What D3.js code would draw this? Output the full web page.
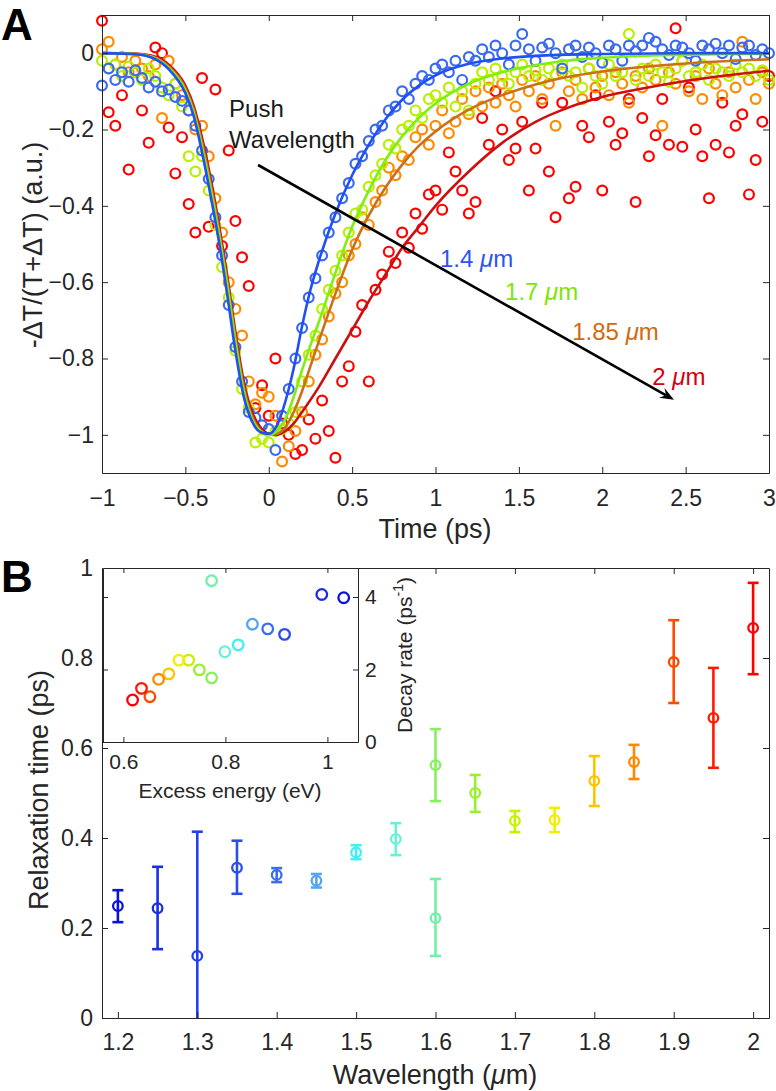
<!DOCTYPE html>
<html><head><meta charset="utf-8">
<script src="https://cdn.jsdelivr.net/npm/d3@7"></script>
<style>
body{margin:0;background:#fff}
svg{display:block}
text{font-family:"Liberation Sans",Arial,Helvetica,sans-serif}
</style>
</head><body>
<svg id="c" width="776" height="1091"></svg>
<script>
// ---------------- Panel A data ----------------
const delayTimes = [-1.00,-0.96,-0.92,-0.88,-0.84,-0.80,-0.76,-0.72,-0.68,-0.64,
 -0.60,-0.56,-0.52,-0.48,-0.44,-0.40,-0.36,-0.32,-0.28,-0.24,
 -0.20,-0.16,-0.12,-0.08,-0.04,0.00,0.04,0.08,0.12,0.16,
 0.20,0.24,0.28,0.32,0.36,0.40,0.44,0.48,0.52,0.56,
 0.60,0.64,0.68,0.72,0.76,0.80,0.84,0.88,0.92,0.96,
 1.00,1.04,1.08,1.12,1.16,1.20,1.24,1.28,1.32,1.36,
 1.40,1.44,1.48,1.52,1.56,1.60,1.64,1.68,1.72,1.76,
 1.80,1.84,1.88,1.92,1.96,2.00,2.04,2.08,2.12,2.16,
 2.20,2.24,2.28,2.32,2.36,2.40,2.44,2.48,2.52,2.56,
 2.60,2.64,2.68,2.72,2.76,2.80,2.84,2.88,2.92,2.96,3.00];

const signal14 = [-0.085,-0.04,-0.07,-0.05,-0.075,-0.045,-0.065,-0.09,-0.075,-0.10,
 -0.095,-0.115,-0.125,-0.15,-0.19,-0.255,-0.33,-0.43,-0.53,-0.66,
 -0.77,-0.86,-0.94,-0.955,-0.975,-0.985,-1.04,-0.95,-0.88,-0.80,
 -0.72,-0.64,-0.59,-0.53,-0.47,-0.43,-0.38,-0.34,-0.29,-0.27,
 -0.23,-0.20,-0.19,-0.15,-0.14,-0.10,-0.12,-0.08,-0.06,-0.07,
 -0.04,-0.03,-0.05,-0.02,-0.07,-0.01,-0.02,0.01,-0.01,0.02,
 0.00,-0.03,0.02,0.05,0.01,-0.02,0.015,0.025,0.00,-0.04,
 0.01,0.02,-0.01,0.015,0.00,-0.025,0.02,0.01,-0.02,0.02,
 0.005,0.02,0.04,0.03,0.01,-0.005,0.02,0.015,0.00,-0.02,
 0.02,0.01,0.025,0.00,0.02,-0.015,0.015,0.02,-0.005,0.01,0.00];

const signal17 = [-0.02,-0.04,-0.03,-0.06,-0.035,-0.05,-0.07,-0.04,-0.06,-0.09,
 -0.11,-0.08,-0.14,-0.27,-0.31,-0.27,-0.36,-0.45,-0.56,-0.64,
 -0.78,-0.88,-0.93,-1.02,-1.01,-1.02,-0.99,-0.985,-0.97,-0.94,
 -0.86,-0.79,-0.74,-0.67,-0.62,-0.57,-0.53,-0.47,-0.42,-0.41,
 -0.35,-0.32,-0.29,-0.24,-0.25,-0.20,-0.19,-0.15,-0.17,-0.12,
 -0.11,-0.13,-0.09,-0.14,-0.10,-0.15,-0.08,-0.05,-0.07,-0.04,
 -0.06,-0.08,-0.05,-0.03,-0.06,-0.045,-0.07,-0.04,-0.055,-0.03,
 -0.06,-0.05,-0.09,-0.04,-0.06,-0.08,-0.03,-0.06,-0.05,0.05,
 -0.07,-0.04,-0.06,-0.03,-0.05,-0.075,-0.04,-0.02,-0.06,-0.05,
 -0.03,-0.07,-0.04,-0.05,-0.06,-0.03,-0.05,-0.04,-0.06,-0.045,-0.07];

const signal185 = [0.01,0.03,-0.03,-0.01,-0.05,-0.02,-0.04,-0.06,-0.03,-0.17,
 -0.02,-0.08,-0.11,-0.15,-0.20,-0.19,-0.27,-0.38,-0.47,-0.60,
 -0.67,-0.74,-0.86,-0.92,-0.89,-0.90,-0.95,-1.07,-1.03,-0.99,
 -0.94,-0.86,-0.79,-0.75,-0.69,-0.63,-0.60,-0.53,-0.50,-0.43,
 -0.45,-0.39,-0.36,-0.30,-0.32,-0.27,-0.28,-0.22,-0.20,-0.24,
 -0.19,-0.15,-0.21,-0.18,-0.12,-0.16,-0.10,-0.14,-0.09,-0.13,
 -0.08,-0.11,-0.14,-0.07,-0.10,-0.06,-0.12,-0.08,-0.19,-0.05,
 -0.10,-0.07,-0.12,-0.04,-0.09,-0.06,-0.11,-0.05,-0.08,-0.13,
 -0.06,-0.09,-0.04,-0.07,-0.19,-0.05,-0.08,-0.02,-0.10,-0.06,
 -0.12,-0.04,-0.08,-0.11,-0.05,-0.09,0.03,-0.07,-0.12,-0.05,-0.08];

const signal20 = [0.085,-0.155,-0.19,-0.11,-0.305,-0.05,-0.15,-0.235,0.015,0.00,
 -0.195,-0.315,-0.22,-0.395,-0.47,-0.065,-0.455,-0.095,-0.505,-0.255,
 -0.44,-0.535,-0.61,-0.93,-0.87,-0.95,-0.80,-0.97,-1.00,-1.05,
 -1.04,-0.96,-1.01,-0.91,-0.99,-1.06,-0.86,-0.82,-0.73,-0.66,
 -0.86,-0.62,-0.58,-0.52,-0.55,-0.47,-0.51,-0.42,-0.46,-0.37,
 -0.36,-0.41,-0.26,-0.31,-0.36,-0.42,-0.39,-0.17,-0.24,-0.10,
 -0.20,-0.28,-0.25,-0.18,-0.36,-0.25,-0.13,-0.31,-0.43,-0.13,
 -0.38,-0.35,-0.19,-0.22,-0.11,-0.36,-0.18,-0.24,-0.21,-0.12,
 -0.39,-0.17,-0.27,-0.215,-0.12,-0.24,0.065,-0.245,-0.09,-0.20,
 -0.27,-0.38,-0.24,-0.13,-0.26,-0.19,-0.16,-0.37,-0.28,-0.18,-0.06];

// fitted curves as [time, signal]
const fit14 = [[-1,0],[-0.8,-0.003],[-0.7,-0.012],[-0.6,-0.042],[-0.5,-0.105],[-0.45,-0.165],[-0.4,-0.26],[-0.35,-0.37],[-0.3,-0.49],[-0.25,-0.63],[-0.2,-0.78],[-0.15,-0.9],[-0.1,-0.965],[-0.05,-0.993],[0,-0.997],[0.05,-0.975],[0.1,-0.912],[0.15,-0.825],[0.2,-0.715],[0.25,-0.62],[0.3,-0.545],[0.4,-0.42],[0.5,-0.32],[0.6,-0.24],[0.7,-0.173],[0.8,-0.122],[0.9,-0.085],[1.0,-0.058],[1.2,-0.028],[1.4,-0.014],[1.6,-0.007],[2.0,-0.002],[2.5,0],[3,0]];
const fit17 = [[-1,0],[-0.8,-0.002],[-0.7,-0.01],[-0.6,-0.038],[-0.5,-0.097],[-0.45,-0.155],[-0.4,-0.245],[-0.35,-0.35],[-0.3,-0.47],[-0.25,-0.605],[-0.2,-0.755],[-0.15,-0.885],[-0.1,-0.958],[-0.05,-0.99],[0,-1.0],[0.05,-0.99],[0.1,-0.958],[0.15,-0.9],[0.2,-0.83],[0.25,-0.765],[0.3,-0.705],[0.4,-0.575],[0.5,-0.455],[0.6,-0.36],[0.7,-0.28],[0.8,-0.218],[0.9,-0.17],[1.0,-0.132],[1.2,-0.08],[1.4,-0.05],[1.6,-0.031],[1.8,-0.019],[2.0,-0.012],[2.5,-0.004],[3,-0.001]];
const fit185 = [[-1,0],[-0.8,-0.002],[-0.7,-0.009],[-0.6,-0.035],[-0.5,-0.092],[-0.45,-0.148],[-0.4,-0.235],[-0.35,-0.34],[-0.3,-0.46],[-0.25,-0.595],[-0.2,-0.745],[-0.15,-0.875],[-0.1,-0.952],[-0.05,-0.988],[0,-1.0],[0.05,-0.997],[0.1,-0.98],[0.15,-0.94],[0.2,-0.885],[0.25,-0.82],[0.3,-0.755],[0.4,-0.63],[0.5,-0.515],[0.6,-0.425],[0.7,-0.352],[0.8,-0.292],[0.9,-0.243],[1.0,-0.205],[1.2,-0.148],[1.4,-0.11],[1.6,-0.082],[1.8,-0.062],[2.0,-0.048],[2.5,-0.027],[3,-0.016]];
const fit20 = [[-1,0],[-0.8,-0.001],[-0.7,-0.007],[-0.6,-0.03],[-0.5,-0.085],[-0.45,-0.138],[-0.4,-0.222],[-0.35,-0.325],[-0.3,-0.445],[-0.25,-0.58],[-0.2,-0.73],[-0.15,-0.86],[-0.1,-0.94],[-0.05,-0.98],[0,-0.997],[0.05,-1.0],[0.1,-0.99],[0.15,-0.97],[0.2,-0.94],[0.3,-0.875],[0.4,-0.8],[0.5,-0.725],[0.6,-0.65],[0.7,-0.58],[0.8,-0.51],[0.9,-0.455],[1.0,-0.4],[1.2,-0.31],[1.4,-0.235],[1.6,-0.18],[1.8,-0.142],[2.0,-0.115],[2.25,-0.092],[2.5,-0.073],[2.75,-0.058],[3,-0.046]];

const seriesNamesA = ["2 μm","1.85 μm","1.7 μm","1.4 μm"];
const pointColorsA = ["#ff0000","#ff8a00","#b8f000","#3a6af0"];
const lineColorsA = ["#cc0f0f","#cc6f1a","#7fee10","#2050f0"];
const labelColorsA = ["#d4000f","#cf6a10","#80e600","#2a55f0"];
// label anchor points in data space [time, signal]
const labelPosA = [[2.30,-0.869],[1.82,-0.751],[1.417,-0.647],[1.027,-0.56]];
const arrowA = [[-0.064,-0.293],[2.43,-0.908]];
const pushTextPos = [[-0.238,-0.168],[-0.238,-0.249]];

const timeTicks = [-1,-0.5,0,0.5,1,1.5,2,2.5,3];
const signalTicks = [-1,-0.8,-0.6,-0.4,-0.2,0];

// ---------------- Panel B data ----------------
const wavelengths = [1.2,1.25,1.3,1.35,1.4,1.45,1.5,1.55,1.6,1.6,1.65,1.7,1.75,1.8,1.85,1.9,1.95,2.0];
const relaxTime  = [0.249,0.244,0.138,0.334,0.318,0.305,0.368,0.398,0.222,0.562,0.500,0.438,0.440,0.527,0.569,0.791,0.667,0.867];
const relaxLow   = [0.213,0.153,-0.138,0.276,0.302,0.290,0.353,0.362,0.138,0.482,0.458,0.413,0.413,0.471,0.531,0.700,0.556,0.764];
const relaxHigh  = [0.284,0.336,0.414,0.394,0.333,0.320,0.384,0.433,0.309,0.642,0.540,0.460,0.467,0.582,0.607,0.884,0.778,0.967];
const pointColorsB = ["#0c12d6","#1a2ee6","#2040f0","#2a4ee8","#3a6ef0","#55a5f0","#40f0f0","#68f0d8","#70f0a8","#88f060","#98f030","#c8f000","#f0f000","#ffc400","#ff8a00","#ff4a00","#ff1a00","#ff0000"];

// inset (same samples, ordered by wavelength)
const excessEnergy = [1.032,0.989,null,0.916,0.883,0.853,0.825,0.799,0.773,0.773,0.749,0.728,0.709,0.689,0.669,0.652,0.6355,0.618];
const decayRate    = [3.98,4.07,null,2.97,3.12,3.25,2.68,2.49,4.45,1.77,1.99,2.26,2.26,1.88,1.73,1.25,1.48,1.16];

const wlTicks = [1.2,1.3,1.4,1.5,1.6,1.7,1.8,1.9,2];
const relaxTicks = [0,0.2,0.4,0.6,0.8,1];
const energyTicks = [0.6,0.8,1];
const rateTicks = [0,2,4];

// ---------------- drawing ----------------
const svg = d3.select("#c");
const AX = "#262626";
const fmt = d3.format("~g");
const TICK = 23;
const LAB = 27;

function styleAxis(g, fs) {
  g.attr("font-size", fs).attr("font-family", null);
  g.select(".domain").attr("stroke", AX).attr("stroke-width", 1);
  g.selectAll(".tick line").attr("stroke", AX).attr("stroke-width", 1);
  g.selectAll(".tick text").attr("fill", AX);
}
function frame(x, y, xt, yt, o) {
  const [xl, xr] = x.range();
  const [yb, yt0] = y.range();
  const fs = o.fs || TICK;
  const tl = o.tl || 6;
  const gb = svg.append("g").attr("transform", `translate(0,${yb})`)
    .call(d3.axisBottom(x).tickValues(xt).tickSizeInner(-tl).tickSizeOuter(0).tickPadding(o.padB).tickFormat(o.xlab ? fmt : ""));
  styleAxis(gb, fs);
  const gt = svg.append("g").attr("transform", `translate(0,${yt0})`)
    .call(d3.axisTop(x).tickValues(xt).tickSizeInner(-tl).tickSizeOuter(0).tickFormat(""));
  styleAxis(gt, fs);
  const gl = svg.append("g").attr("transform", `translate(${xl},0)`)
    .call(d3.axisLeft(y).tickValues(yt).tickSizeInner(-tl).tickSizeOuter(0).tickPadding(o.padL || 8).tickFormat(o.ylabLeft ? fmt : ""));
  styleAxis(gl, fs);
  const gr = svg.append("g").attr("transform", `translate(${xr},0)`)
    .call(d3.axisRight(y).tickValues(yt).tickSizeInner(-tl).tickSizeOuter(0).tickPadding(o.padR || 7).tickFormat(o.ylabRight ? fmt : ""));
  styleAxis(gr, fs);
}

// ---- Panel A ----
const xA = d3.scaleLinear().domain([-1, 3]).range([102, 769]);
const yA = d3.scaleLinear().domain([-1.1, 0.1]).range([473, 15]);

const signalsA = [signal20, signal185, signal17, signal14];
const fitsA = [fit20, fit185, fit17, fit14];

signalsA.forEach((s, k) => {
  svg.append("g").selectAll("circle").data(s.map((v, i) => [delayTimes[i], v])).join("circle")
    .attr("cx", d => xA(d[0])).attr("cy", d => yA(d[1])).attr("r", 4.9)
    .attr("fill", "none").attr("stroke", pointColorsA[k]).attr("stroke-width", 2.2);
});
const lineA = d3.line().x(d => xA(d[0])).y(d => yA(d[1])).curve(d3.curveMonotoneX);
fitsA.forEach((f, k) => {
  svg.append("path").attr("d", lineA(f)).attr("fill", "none")
    .attr("stroke", lineColorsA[k]).attr("stroke-width", 2.6);
});

frame(xA, yA, timeTicks, signalTicks, {xlab: true, ylabLeft: true, padB: 17, padL: 8});

// arrow
{
  const [p0, p1] = arrowA.map(d => [xA(d[0]), yA(d[1])]);
  const ang = Math.atan2(p1[1] - p0[1], p1[0] - p0[0]);
  const L = 14, W = 5.5, N = 9;
  const back = [p1[0] - L * Math.cos(ang), p1[1] - L * Math.sin(ang)];
  const notch = [p1[0] - N * Math.cos(ang), p1[1] - N * Math.sin(ang)];
  svg.append("line").attr("x1", p0[0]).attr("y1", p0[1]).attr("x2", notch[0]).attr("y2", notch[1])
    .attr("stroke", "#000").attr("stroke-width", 2.6);
  const nx = -Math.sin(ang), ny = Math.cos(ang);
  const pts = [p1, [back[0] + nx * W, back[1] + ny * W], notch, [back[0] - nx * W, back[1] - ny * W]];
  svg.append("path").attr("d", "M" + pts.map(p => p.join(",")).join("L") + "Z").attr("fill", "#000");
}
// labels
const muLabel = (sel, txt) => {
  const parts = txt.split(" ");
  sel.append("tspan").text(parts[0] + " ");
  sel.append("tspan").attr("font-style", "italic").text("μ");
  sel.append("tspan").text("m");
};
seriesNamesA.forEach((n, k) => {
  const t = svg.append("text").attr("x", xA(labelPosA[k][0])).attr("y", yA(labelPosA[k][1]))
    .attr("font-size", 24).attr("fill", labelColorsA[k]);
  muLabel(t, n);
});
["Push", "Wavelength"].forEach((s, i) => {
  svg.append("text").attr("x", xA(pushTextPos[i][0])).attr("y", yA(pushTextPos[i][1]))
    .attr("font-size", 24).attr("fill", "#1a1a1a").text(s);
});
svg.append("text").attr("x", 435).attr("y", 538).attr("text-anchor", "middle")
  .attr("font-size", LAB).attr("fill", AX).text("Time (ps)");
svg.append("text").attr("transform", "translate(42,245) rotate(-90)").attr("text-anchor", "middle")
  .attr("font-size", LAB).attr("fill", AX).text("-ΔT/(T+ΔT) (a.u.)");
svg.append("text").attr("x", 1).attr("y", 40).attr("font-size", 44).attr("font-weight", "bold").attr("fill", "#000").text("A");

// ---- Panel B ----
const xB = d3.scaleLinear().domain([1.18, 2.02]).range([102, 769]);
const yB = d3.scaleLinear().domain([0, 1]).range([1018, 568]);

svg.append("clipPath").attr("id", "clipB").append("rect")
  .attr("x", 102).attr("y", 568).attr("width", 667).attr("height", 450);

const gB = svg.append("g").attr("clip-path", "url(#clipB)");
wavelengths.forEach((w, i) => {
  const c = pointColorsB[i], x = xB(w);
  const g = gB.append("g").attr("stroke", c).attr("fill", "none");
  g.append("line").attr("x1", x).attr("x2", x).attr("y1", yB(relaxLow[i])).attr("y2", yB(relaxHigh[i])).attr("stroke-width", 2.6);
  [relaxLow[i], relaxHigh[i]].forEach(v => {
    g.append("line").attr("x1", x - 5.5).attr("x2", x + 5.5).attr("y1", yB(v)).attr("y2", yB(v)).attr("stroke-width", 2.6);
  });
  g.append("circle").attr("cx", x).attr("cy", yB(relaxTime[i])).attr("r", 4.8).attr("stroke-width", 2.3);
});

frame(xB, yB, wlTicks, relaxTicks, {xlab: true, ylabLeft: true, padB: 16, padL: 9});

svg.append("text").attr("x", 435).attr("y", 1084).attr("text-anchor", "middle")
  .attr("font-size", LAB).attr("fill", AX).call(s => {
    s.append("tspan").text("Wavelength (");
    s.append("tspan").attr("font-style", "italic").text("μ");
    s.append("tspan").text("m)");
  });
svg.append("text").attr("transform", "translate(48,790) rotate(-90)").attr("text-anchor", "middle")
  .attr("font-size", LAB).attr("fill", AX).text("Relaxation time (ps)");
svg.append("text").attr("x", 1).attr("y", 592).attr("font-size", 44).attr("font-weight", "bold").attr("fill", "#000").text("B");

// ---- Inset ----
const xI = d3.scaleLinear().domain([0.56, 1.06]).range([103, 358]);
const yI = d3.scaleLinear().domain([0, 4.8]).range([742, 568]);
svg.append("rect").attr("x", 103).attr("y", 568).attr("width", 255).attr("height", 174).attr("fill", "#fff");
svg.append("g").selectAll("circle")
  .data(wavelengths.map((w, i) => ({x: excessEnergy[i], y: decayRate[i], c: pointColorsB[i]})).filter(d => d.x != null))
  .join("circle")
  .attr("cx", d => xI(d.x)).attr("cy", d => yI(d.y)).attr("r", 5.3)
  .attr("fill", "none").attr("stroke", d => d.c).attr("stroke-width", 2.3);
frame(xI, yI, energyTicks, rateTicks, {xlab: true, ylabRight: true, padB: 12, padR: 7, fs: 21, tl: 5});
svg.append("text").attr("x", 230).attr("y", 798).attr("text-anchor", "middle")
  .attr("font-size", 21).attr("fill", AX).text("Excess energy (eV)");
svg.append("text").attr("transform", "translate(412,655) rotate(-90)").attr("text-anchor", "middle")
  .attr("font-size", 21).attr("fill", AX).call(s => {
    s.append("tspan").text("Decay rate (ps");
    s.append("tspan").attr("font-size", 14).attr("dy", -9).text("-1");
    s.append("tspan").attr("dy", 9).text(")");
  });
</script>
</body></html>
